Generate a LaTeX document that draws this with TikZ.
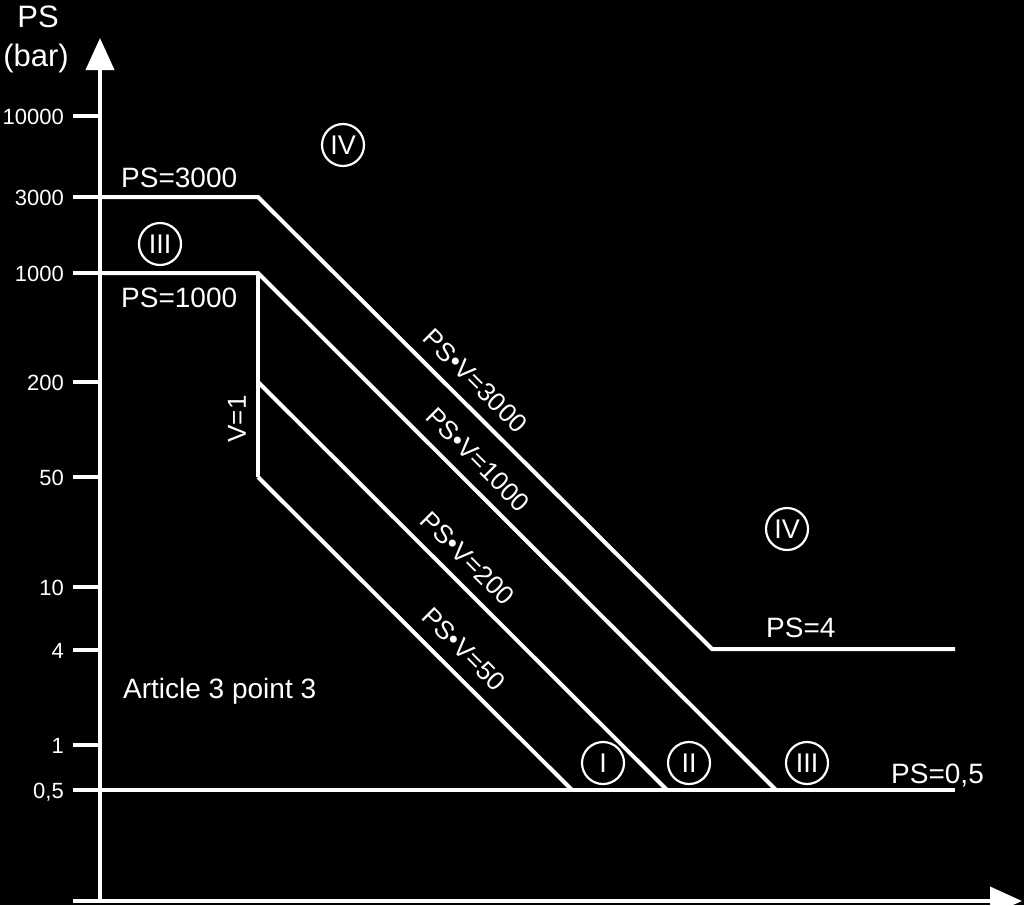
\documentclass[tikz,border=0pt]{standalone}
\usepackage{fontspec}
\setmainfont{Liberation Sans}
\usetikzlibrary{arrows.meta}

\begin{document}
\begin{tikzpicture}[x=1pt,y=-1pt,
    every node/.style={text=white,inner sep=0pt},
    axis/.style={white,line width=4pt},
    limit/.style={white,line width=4pt},
    zone/.style={circle,draw=white,line width=2.2pt,minimum size=42pt,font=\fontsize{27}{27}\selectfont},
    lbl/.style={font=\fontsize{28}{28}\selectfont,anchor=base west},
    diag/.style={font=\fontsize{26}{26}\selectfont,sloped,above,inner sep=12pt},
    ticklbl/.style={font=\fontsize{22}{22}\selectfont,anchor=base east}]
\useasboundingbox (0,0) rectangle (1024,905);
\fill[black] (0,0) rectangle (1024,905);
\clip (0,0) rectangle (1024,905);

\coordinate (O)    at (100,901);
\coordinate (ytop) at (100,38);
\coordinate (xl)   at (73,901);
\coordinate (xr)   at (1022,901);
\draw[axis,-{Triangle[length=32pt,width=28pt]}] (O) -- (ytop);
\draw[axis,-{Triangle[length=32pt,width=28pt]}] (xl) -- (xr);
\node[font=\fontsize{31}{31}\selectfont,anchor=base] (ylab)  at (38,27) {PS};
\node[font=\fontsize{31}{31}\selectfont,anchor=base] (yunit) at (36,66) {(bar)};

\foreach \y/\lab [count=\i] in {116/10000,197/3000,273/1000,382/200,477/50,587/10,650/4,745/1,790/{0,5}}{
  \coordinate (tk\i) at (73,\y);
  \draw[axis] (tk\i) -- (100,\y);
  \node[ticklbl] (tl\i) at (64,{\y+8}) {\lab};
}

\coordinate (a1) at (100,197);
\coordinate (a2) at (258,197);
\coordinate (a3) at (712,649);
\coordinate (a4) at (955,649);
\coordinate (b1) at (100,273);
\coordinate (b2) at (258,273);
\coordinate (b3) at (776,790);
\coordinate (c1) at (258,382);
\coordinate (c2) at (667,790);
\coordinate (d1) at (258,477);
\coordinate (d2) at (572,790);
\coordinate (e1) at (100,790);
\coordinate (e2) at (955,790);

\draw[limit] (a1) -- (a2) -- node[diag,pos=0.443] (l3000) {PS•V=3000} (a3) -- (a4);
\draw[limit] (b1) -- (b2) -- node[diag,pos=0.393] (l1000) {PS•V=1000} (b3);
\draw[limit] (b2) -- (d1);
\draw[limit] (c1) -- node[diag,pos=0.472] (l200) {PS•V=200} (c2);
\draw[limit] (d1) -- node[diag,pos=0.603] (l50) {PS•V=50} (d2);
\draw[limit] (e1) -- (e2);

\node[font=\fontsize{26}{26}\selectfont,rotate=90] (v1) at (237,419) {V=1};
\node[lbl] (ps3000) at (121,187) {PS=3000};
\node[lbl] (ps1000) at (121,307) {PS=1000};
\node[lbl] (ps4)    at (766,637) {PS=4};
\node[lbl] (ps05)   at (891,783) {PS=0,5};
\node[lbl] (art)    at (123,698) {Article 3 point 3};

\node[zone] (z4a) at (343,145) {IV};
\node[zone] (z3a) at (160,244) {III};
\node[zone] (z4b) at (787,529) {IV};
\node[zone] (z1)  at (603,763) {I};
\node[zone] (z2)  at (689,763) {II};
\node[zone] (z3b) at (807,763) {III};
\end{tikzpicture}
\end{document}
